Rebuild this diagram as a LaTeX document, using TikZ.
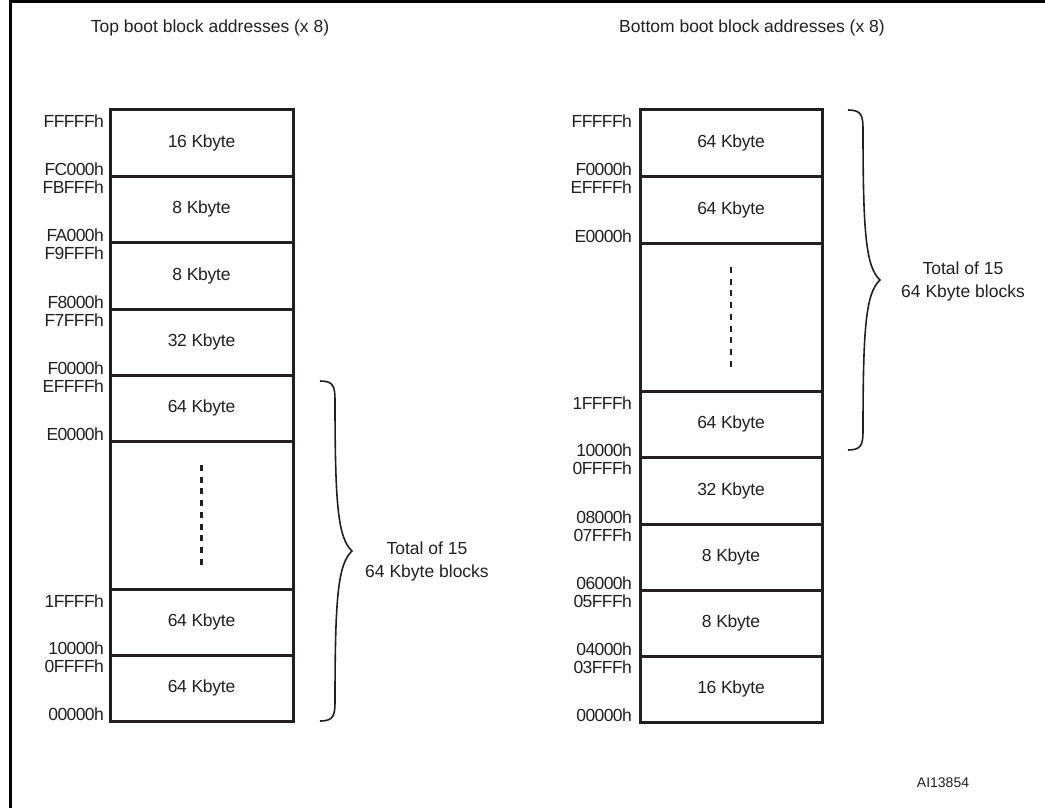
\documentclass[tikz,border=0pt]{standalone}
\usepackage{fontspec}
\setmainfont{Liberation Sans}
\newfontfamily\addrfont[LetterSpace=-3.5]{Liberation Sans}
\newfontfamily\boxfont[LetterSpace=-1.5]{Liberation Sans}
\definecolor{ink}{HTML}{231F20}
\begin{document}
\begin{tikzpicture}[x=1pt,y=-1pt,
  every node/.style={text=ink, font=\fontsize{17.5}{23}\selectfont},
  memrow/.style={draw=ink, line width=3pt, inner sep=0pt, minimum width=183pt, font=\boxfont\fontsize{17.5}{23}\selectfont},
  addrtop/.style={anchor=north east, inner sep=0pt, font=\addrfont\fontsize{17.5}{23}\selectfont},
  addrbot/.style={anchor=base east, inner sep=0pt, font=\addrfont\fontsize{17.5}{23}\selectfont},
  bracepath/.style={draw=ink, line width=1.6pt},
  dots/.style={draw=ink, line width=2.2pt, dash pattern=on 6pt off 5.7pt},
  frame/.style={draw=black, line width=3pt}]
\useasboundingbox (0,0) rectangle (1045,808);
% frame (top and left edges)
\coordinate (fl) at (10,808);
\coordinate (fc) at (10,2);
\coordinate (fr) at (1045,2);
\draw[frame] (fl) -- (fc) -- (fr);

% titles
\node (tl) at (210,28) {Top boot block addresses (x 8)};
\node (tr) at (752,28) {Bottom boot block addresses (x 8)};

% left column
\node[memrow, minimum height=66pt] (L1) at (201.5,143) {16 Kbyte};
\node[memrow, minimum height=66pt] (L2) at (201.5,209) {8 Kbyte};
\node[memrow, minimum height=67pt] (L3) at (201.5,275.5) {8 Kbyte};
\node[memrow, minimum height=66pt] (L4) at (201.5,342) {32 Kbyte};
\node[memrow, minimum height=66pt] (L5) at (201.5,408) {64 Kbyte};
\node[memrow, minimum height=148pt] (L6) at (201.5,515) {};
\node[memrow, minimum height=66pt] (L7) at (201.5,622) {64 Kbyte};
\node[memrow, minimum height=66pt] (L8) at (201.5,688) {64 Kbyte};
\coordinate (Ld1) at (201.5,465);
\coordinate (Ld2) at (201.5,566);
\draw[dots] (Ld1) -- (Ld2);

% left addresses
\node[addrtop] (la1) at (104,114.5) {FFFFFh};
\node[addrbot] (la2) at (104,175) {FC000h};
\node[addrtop] (la3) at (104,180.5) {FBFFFh};
\node[addrbot] (la4) at (104,241) {FA000h};
\node[addrtop] (la5) at (104,246.5) {F9FFFh};
\node[addrbot] (la6) at (104,308) {F8000h};
\node[addrtop] (la7) at (104,313.5) {F7FFFh};
\node[addrbot] (la8) at (104,374) {F0000h};
\node[addrtop] (la9) at (104,379.5) {EFFFFh};
\node[addrbot] (la10) at (104,440) {E0000h};
\node[addrtop] (la11) at (104,594.5) {1FFFFh};
\node[addrbot] (la12) at (104,654) {10000h};
\node[addrtop] (la13) at (104,659.5) {0FFFFh};
\node[addrbot] (la14) at (104,720) {00000h};

% right column
\node[memrow, minimum width=182pt, minimum height=66pt] (R1) at (731,143) {64 Kbyte};
\node[memrow, minimum width=182pt, minimum height=67pt] (R2) at (731,209.5) {64 Kbyte};
\node[memrow, minimum width=182pt, minimum height=148pt] (R3) at (731,317) {};
\node[memrow, minimum width=182pt, minimum height=66pt] (R4) at (731,424) {64 Kbyte};
\node[memrow, minimum width=182pt, minimum height=67pt] (R5) at (731,490.5) {32 Kbyte};
\node[memrow, minimum width=182pt, minimum height=66pt] (R6) at (731,557) {8 Kbyte};
\node[memrow, minimum width=182pt, minimum height=66pt] (R7) at (731,623) {8 Kbyte};
\node[memrow, minimum width=182pt, minimum height=66pt] (R8) at (731,689) {16 Kbyte};
\coordinate (Rd1) at (731,267);
\coordinate (Rd2) at (731,368);
\draw[dots] (Rd1) -- (Rd2);

% right addresses
\node[addrtop] (ra1) at (632,114.5) {FFFFFh};
\node[addrbot] (ra2) at (632,175) {F0000h};
\node[addrtop] (ra3) at (632,180.5) {EFFFFh};
\node[addrbot] (ra4) at (632,242) {E0000h};
\node[addrtop] (ra5) at (632,396.5) {1FFFFh};
\node[addrbot] (ra6) at (632,456) {10000h};
\node[addrtop] (ra7) at (632,461.5) {0FFFFh};
\node[addrbot] (ra8) at (632,523) {08000h};
\node[addrtop] (ra9) at (632,528.5) {07FFFh};
\node[addrbot] (ra10) at (632,589) {06000h};
\node[addrtop] (ra11) at (632,594.5) {05FFFh};
\node[addrbot] (ra12) at (632,655) {04000h};
\node[addrtop] (ra13) at (632,660.5) {03FFFh};
\node[addrbot] (ra14) at (632,721) {00000h};

% left brace
\coordinate (lbt) at (320,381);
\coordinate (lbtip) at (352,551);
\coordinate (lbb) at (320,721);
\draw[bracepath] (lbt) .. controls (333,381) and (335,386) .. (335,400)
  .. controls (335,505) and (338,538) .. (lbtip)
  .. controls (338,564) and (335,597) .. (335,702)
  .. controls (335,716) and (333,721) .. (lbb);
\node[align=center] (lt) at (427,561) {Total of 15\\64 Kbyte blocks};

% right brace
\coordinate (rbt) at (848,110);
\coordinate (rbtip) at (880,280);
\coordinate (rbb) at (848,450);
\draw[bracepath] (rbt) .. controls (861,110) and (863,115) .. (863,129)
  .. controls (863,234) and (866,267) .. (rbtip)
  .. controls (866,293) and (863,326) .. (863,431)
  .. controls (863,445) and (861,450) .. (rbb);
\node[align=center] (rt) at (963,281) {Total of 15\\64 Kbyte blocks};

% figure id
\node[font=\fontsize{14}{16}\selectfont] (id) at (943,783) {AI13854};
\end{tikzpicture}
\end{document}
